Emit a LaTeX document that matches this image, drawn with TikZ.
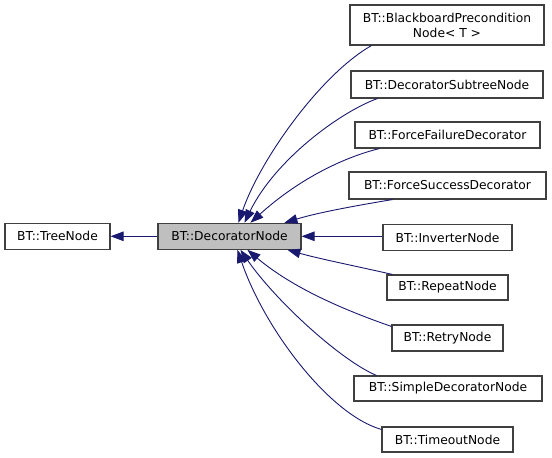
\documentclass[tikz,border=0pt]{standalone}
\usepackage{fontspec}
\setmainfont{DejaVu Sans}
\usetikzlibrary{arrows.meta,calc}
\definecolor{edgeblue}{HTML}{191970}
\definecolor{boxgray}{HTML}{BFBFBF}
\definecolor{boxline}{HTML}{404040}
\begin{document}
\begin{tikzpicture}[x=1pt,y=-1pt,
  box/.style={draw=boxline,line width=1.1pt,fill=white,inner sep=0pt,
    font=\fontsize{12.3}{15}\selectfont,align=center},
  edge/.style={draw=edgeblue,line width=0.9pt,
    -{Triangle[length=13pt,width=9.5pt]}}]
\useasboundingbox (0,0) rectangle (552,458);
\fill[white] (0,0) rectangle (552,458);
% nodes
\node[box,minimum width=105pt,minimum height=26pt] (tree) at (57.5,236.3) {BT::TreeNode};
\node[box,fill=boxgray,minimum width=143pt,minimum height=26pt] (dec) at (229.5,236.3) {BT::DecoratorNode};
\node[box,minimum width=194pt,minimum height=40pt] (bb) at (447,25) {BT::BlackboardPrecondition\\Node< T >};
\node[box,minimum width=192pt,minimum height=27pt] (sub) at (447,84.5) {BT::DecoratorSubtreeNode};
\node[box,minimum width=185pt,minimum height=26pt] (ff) at (447.5,135) {BT::ForceFailureDecorator};
\node[box,minimum width=197pt,minimum height=27pt] (fs) at (447.5,185.5) {BT::ForceSuccessDecorator};
\node[box,minimum width=129pt,minimum height=26pt] (inv) at (447.5,237.5) {BT::InverterNode};
\node[box,minimum width=121pt,minimum height=25pt] (rep) at (447.5,287.5) {BT::RepeatNode};
\node[box,minimum width=111pt,minimum height=26pt] (ret) at (447.5,338) {BT::RetryNode};
\node[box,minimum width=188pt,minimum height=25pt] (sim) at (448,388.5) {BT::SimpleDecoratorNode};
\node[box,minimum width=131pt,minimum height=25pt] (tim) at (447.5,439.5) {BT::TimeoutNode};
% edges
\draw[edge] (dec.west) -- (tree.east);
\draw[edge] ($(bb.south west)+(22,0)$) .. controls (320,75) and (260,160) .. ($(dec.north west)+(81,0)$);
\draw[edge] ($(sub.south west)+(27,0)$) .. controls (340,112) and (275,160) .. ($(dec.north west)+(87,0)$);
\draw[edge] ($(ff.south west)+(25,0)$) .. controls (345,157) and (300,178) .. ($(dec.north west)+(93,0)$);
\draw[edge] ($(fs.south west)+(44,0)$) .. controls (360,205) and (320,212) .. ($(dec.north west)+(127,0)$);
\draw[edge] (dec.east -| inv.west) -- (dec.east);
\draw[edge] ($(rep.north west)+(6,0)$) .. controls (360,267) and (320,259) .. ($(dec.south west)+(130,0)$);
\draw[edge] ($(ret.north west)+(0,2)$) .. controls (350,312) and (295,290) .. ($(dec.south west)+(90,0)$);
\draw[edge] ($(sim.north west)+(23,0)$) .. controls (340,360) and (275,300) .. ($(dec.south west)+(83,0)$);
\draw[edge] ($(tim.north west)+(0,3)$) .. controls (330,415) and (265,330) .. ($(dec.south west)+(80,0)$);
\end{tikzpicture}
\end{document}
